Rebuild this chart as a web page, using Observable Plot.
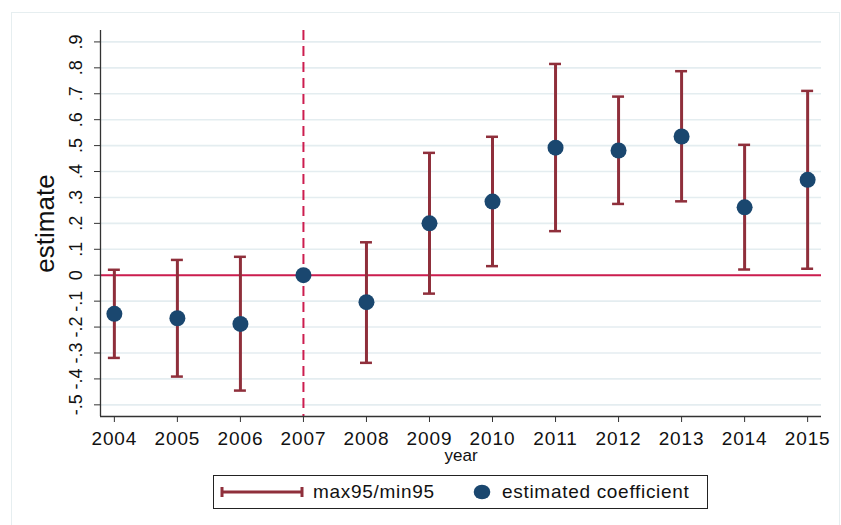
<!DOCTYPE html>
<html>
<head>
<meta charset="utf-8">
<script src="https://cdn.jsdelivr.net/npm/d3@7"></script>
<script src="https://cdn.jsdelivr.net/npm/@observablehq/plot@0.6"></script>
<style>
  html, body { margin: 0; padding: 0; background: #fff; overflow: hidden; }
  #page { position: relative; width: 841px; height: 525px; font-family: "Liberation Sans", Arial, sans-serif; }
  #outer { position: absolute; left: 11px; top: 12px; width: 829px; height: 530px; border: 1px solid #e6eef0; box-sizing: border-box; }
  #chart { position: absolute; left: 0; top: 0; }
  #chart g[aria-label="x-axis tick label"] text { letter-spacing: 0.9px; }
  #legend { position: absolute; left: 213px; top: 475px; width: 495px; height: 34px; border: 1px solid #222; box-sizing: border-box; background: #fff; }
  #legend svg { position: absolute; }
  #legend span { position: absolute; top: 5px; font-size: 19px; color: #111; letter-spacing: 0.7px; }
</style>
</head>
<body>
<div id="page">
  <div id="outer"></div>
  <div id="chart"></div>
  <div id="legend">
    <svg style="left:6px;top:8px" width="84" height="16">
      <line x1="2" y1="8" x2="82" y2="8" stroke="#8f2f3b" stroke-width="3"/>
      <line x1="2" y1="3" x2="2" y2="13" stroke="#8f2f3b" stroke-width="3"/>
      <line x1="82" y1="3" x2="82" y2="13" stroke="#8f2f3b" stroke-width="3"/>
    </svg>
    <span style="left:99px">max95/min95</span>
    <svg style="left:258px;top:7px" width="20" height="18">
      <ellipse cx="10" cy="9" rx="8.3" ry="7.3" fill="#1a476f"/>
    </svg>
    <span style="left:288px">estimated coefficient</span>
  </div>
</div>
<script>
const years    = [2004, 2005, 2006, 2007, 2008, 2009, 2010, 2011, 2012, 2013, 2014, 2015];
const estimate = [-0.149, -0.166, -0.188, 0, -0.104, 0.200, 0.284, 0.492, 0.481, 0.535, 0.262, 0.368];
const upper95  = [0.021, 0.059, 0.071, null, 0.127, 0.472, 0.534, 0.815, 0.689, 0.787, 0.503, 0.711];
const lower95  = [-0.319, -0.391, -0.445, null, -0.338, -0.071, 0.035, 0.170, 0.275, 0.285, 0.022, 0.025];
const yTicks   = [-0.5, -0.4, -0.3, -0.2, -0.1, 0, 0.1, 0.2, 0.3, 0.4, 0.5, 0.6, 0.7, 0.8, 0.9];
const baseYear = [2007];
const xDomain  = [2003.78, 2015.22];
const yDomain  = [-0.545, 0.944];

const rows = years.map((y, i) => ({year: y, est: estimate[i], hi: upper95[i], lo: lower95[i]}));
const ci = rows.filter(d => d.hi != null);

const fmt = d => d === 0 ? "0" : (d < 0 ? "-" : "") + Math.abs(d).toFixed(1).replace(/^0/, "");
const capHalf = 0.095;
const barColor = "#8f2f3b";
const refColor = "#cc1d4f";

const chart = Plot.plot({
  width: 841,
  height: 465,
  marginTop: 30,
  marginLeft: 100,
  marginRight: 20,
  marginBottom: 49,
  style: {fontFamily: "'Liberation Sans', Arial, sans-serif", color: "#111", background: "transparent", overflow: "visible"},
  x: {domain: xDomain, axis: null},
  y: {domain: yDomain, axis: null},
  marks: [
    Plot.gridY(yTicks, {stroke: "#e4edf0", strokeOpacity: 1, strokeWidth: 1.6}),
    Plot.ruleY([0], {stroke: refColor, strokeWidth: 2}),
    Plot.ruleX(baseYear, {stroke: refColor, strokeWidth: 2, strokeDasharray: "10,6"}),
    Plot.ruleX([xDomain[0]], {stroke: "#333", strokeWidth: 1.3}),
    Plot.ruleY([yDomain[0]], {stroke: "#333", strokeWidth: 1.3}),
    Plot.axisY(yTicks, {tickSize: 6, tickFormat: () => "", stroke: "#333"}),
    Plot.text(yTicks, {y: d => d, text: fmt, frameAnchor: "left", dx: -24, rotate: -90, textAnchor: "middle", lineAnchor: "middle", fontSize: 18, fill: "#111"}),
    Plot.axisX(years, {tickSize: 6, tickPadding: 8.5, tickFormat: d => String(d), fontSize: 19, label: null, stroke: "#333", fill: "#111"}),
    Plot.text(["year"], {frameAnchor: "bottom", dy: 39, fontSize: 17, fill: "#111", textAnchor: "middle", lineAnchor: "middle"}),
    Plot.text(["estimate"], {frameAnchor: "left", dx: -55, rotate: -90, fontSize: 26, fill: "#111", textAnchor: "middle", lineAnchor: "middle"}),
    Plot.ruleX(ci, {x: "year", y1: "lo", y2: "hi", stroke: barColor, strokeWidth: 3}),
    Plot.ruleY(ci, {y: "hi", x1: d => d.year - capHalf, x2: d => d.year + capHalf, stroke: barColor, strokeWidth: 2.5}),
    Plot.ruleY(ci, {y: "lo", x1: d => d.year - capHalf, x2: d => d.year + capHalf, stroke: barColor, strokeWidth: 2.5}),
    Plot.dot(rows, {x: "year", y: "est", r: 8, fill: "#1a476f", stroke: "none"})
  ]
});
document.getElementById("chart").appendChild(chart);
</script>
</body>
</html>
